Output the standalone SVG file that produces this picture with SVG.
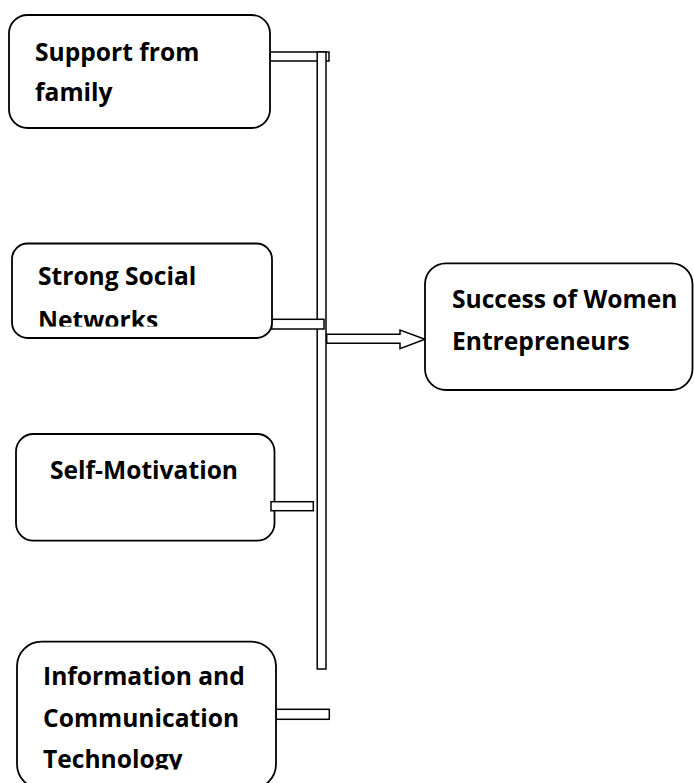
<svg xmlns="http://www.w3.org/2000/svg" width="694" height="783" viewBox="0 0 694 783">
  <style>
    .box { fill: #ffffff; stroke: #000000; stroke-width: 1.8; }
    .bar { fill: #ffffff; stroke: #000000; stroke-width: 1.5; }
    .label { font-family: "Open Sans", "Liberation Sans", sans-serif; font-weight: 700; font-size: 24.6px; fill: #000000; }
  </style>
  <defs>
    <clipPath id="clipNetworks"><rect x="14" y="246" width="256" height="80.5"/></clipPath>
    <clipPath id="clipIct"><rect x="19" y="644" width="256" height="125.5"/></clipPath>
  </defs>
  <rect width="694" height="783" fill="#ffffff"/>

  <!-- connector bars and the collecting spine -->
  <g id="connectors">
    <rect class="bar" x="270" y="52" width="59" height="9"/>
    <rect class="bar" x="317.2" y="52" width="8.8" height="617"/>
    <rect class="bar" x="271.7" y="319.3" width="52.3" height="9.7"/>
    <rect class="bar" x="276" y="709.3" width="53.3" height="10"/>
    <path class="bar" d="M326.7 334.3 H400 V330 L425 339.3 L400 348.6 V343.3 H326.7 Z"/>
  </g>

  <g id="node-family">
    <rect class="box" x="9" y="15" width="261" height="113" rx="18.5"/>
    <text class="label" x="35" y="60.5">Support from</text>
    <text class="label" x="35" y="100.5">family</text>
  </g>

  <g id="node-networks">
    <rect class="box" x="12" y="243.5" width="260" height="94.5" rx="15.5"/>
    <g clip-path="url(#clipNetworks)">
      <text class="label" x="38" y="285">Strong Social</text>
      <text class="label" x="38" y="328.5">Networks</text>
    </g>
  </g>

  <g id="node-motivation">
    <rect class="box" x="16" y="434" width="258.5" height="106.7" rx="17.5"/>
    <text class="label" x="50" y="479">Self-Motivation</text>
    <rect class="bar" x="271" y="501.7" width="42.3" height="9"/>
  </g>

  <g id="node-ict">
    <rect class="box" x="17" y="641.7" width="259" height="147" rx="24.5"/>
    <g clip-path="url(#clipIct)">
      <text class="label" x="43" y="685">Information and</text>
      <text class="label" x="43" y="727">Communication</text>
      <text class="label" x="43" y="768">Technology</text>
    </g>
  </g>

  <g id="node-success">
    <rect class="box" x="425" y="263.3" width="267.5" height="126.7" rx="21"/>
    <text class="label" x="452" y="308">Success of Women</text>
    <text class="label" x="452" y="350">Entrepreneurs</text>
  </g>
</svg>
